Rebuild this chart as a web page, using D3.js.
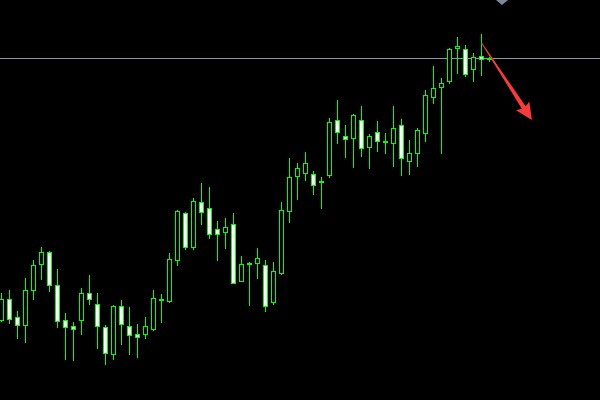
<!DOCTYPE html>
<html>
<head>
<meta charset="utf-8">
<script src="https://cdn.jsdelivr.net/npm/d3@7/dist/d3.min.js"></script>
<style>
  html, body { margin: 0; padding: 0; background: #000; }
  svg { display: block; }
</style>
</head>
<body>
<svg id="chart" width="600" height="400"></svg>
<script>
// Candle OHLC values (arbitrary price units)
const opens  = [79.7,100.7,82.7,74.7,109.7,135.7,147.7,114.7,79.7,73.7,79.7,107,95.7,73,45.7,94,73.7,66,65.7,71.3,99.7,99.3,139.7,187,153.3,197.7,191.7,170.7,167.7,175.7,118.7,135.7,137.3,134.7,98.3,127.3,189.3,223.7,227.3,225.7,218.5,225.3,279.7,263.7,262.3,279.7,253.3,267.7,257.8,256.7,274.7,239.3,247.3,267.3,303.3,312.7,319.3,352.5,350.7,331.3,343.7,341.2];
const highs  = [107.3,110,89,122,140,153.3,149,131,87,78,112,125.3,107,75,95.3,100,93,76,83,110,106,147,190,188,202,217,213,179,182,187,144,138,152,140,138,198,242,236.7,248,229,222.7,282,300,275,286,294,266,279,267,294,281,260,271.7,310,334,322,352,363,355,347,366,343.3];
const lows   = [79,77.3,62.3,58.3,101.3,121.3,109.3,73.3,41.3,40.3,66.3,96.3,52.3,36.3,41.3,56.3,46.3,43.3,62.3,70.3,78.3,98.3,135.3,151.3,151.3,176.3,162.3,140.3,152.3,116.7,118.7,95,122.3,89.3,96.3,126.3,178.3,201.3,220.3,206.3,192.3,223.3,257.3,243.3,233.3,244.3,232.3,249.3,247.3,234.3,225.3,226.3,234.3,259.3,297.3,247.3,317.3,327.3,324.3,319.3,325.3,339];
const closes = [100.7,81.3,74.7,109.7,134.7,147.7,114.7,78.7,72.7,70.7,107,100.7,73.7,46.7,94,75.7,64.7,63.3,73.7,101.7,100.7,140.7,188.7,152.7,199,188.3,165.7,165.7,172.7,116.7,135.7,136.7,142,93.7,128.7,189.7,222.7,231.7,236.7,214.7,219.5,277.7,267.7,261.3,285,252.3,263.7,259.3,258.8,271.7,241.7,246.7,270,304.7,311.7,316.7,350.7,353.5,326.3,342.7,340.7,341.7];
const bidPrice = 341.7;
// annotation arrow: from / to in (candle index, price)
const arrowFrom = { i: 60, v: 357.3 };
const arrowTo   = { i: 66.3, v: 280 };

const candles = opens.map((o, i) => ({ i, o, h: highs[i], l: lows[i], c: closes[i] }));

const W = 600, H = 400;
const svg = d3.select("#chart");
svg.append("rect").attr("width", W).attr("height", H).attr("fill", "#000");

const x = d3.scaleLinear().domain([0, 61]).range([1.5, 489.5]);
const y = d3.scaleLinear().domain([0, 400]).range([400, 0]);

// bid line
const by = Math.round(y(bidPrice)) + 0.5;
svg.append("line")
  .attr("x1", 0).attr("x2", W).attr("y1", by).attr("y2", by)
  .attr("stroke", "#8796aa").attr("stroke-width", 1);

// top triangle marker
svg.append("path")
  .attr("d", "M496,0 L508,0 L502,5 Z")
  .attr("fill", "#7d8a99");

const g = svg.append("g").attr("shape-rendering", "crispEdges");

// wicks
g.selectAll("line.wick").data(candles).join("line")
  .attr("class", "wick")
  .attr("x1", d => x(d.i)).attr("x2", d => x(d.i))
  .attr("y1", d => Math.round(y(d.h)))
  .attr("y2", d => Math.round(y(d.l)) + 1)
  .attr("stroke", "#00ff00").attr("stroke-width", 1);

// bodies
g.selectAll("rect.body").data(candles).join("rect")
  .attr("class", "body")
  .attr("x", d => x(d.i) - 2)
  .attr("width", 4)
  .attr("y", d => Math.round(y(Math.max(d.o, d.c))) + 0.5)
  .attr("height", d => Math.max(1, Math.round(y(Math.min(d.o, d.c))) - Math.round(y(Math.max(d.o, d.c)))))
  .attr("fill", d => d.c >= d.o ? "#000" : "#fff")
  .attr("stroke", "#00ff00").attr("stroke-width", 1);

// red arrow annotation
const x0 = x(arrowFrom.i), y0 = y(arrowFrom.v);
const x1 = x(arrowTo.i), y1 = y(arrowTo.v);
const dx = x1 - x0, dy = y1 - y0, len = Math.hypot(dx, dy);
const ux = dx / len, uy = dy / len, nx = -uy, ny = ux;
const headLen = 17, headHalf = 8, shaftEnd = 2.3, shaftStart = 0.4;
const bx = x1 - ux * headLen, byy = y1 - uy * headLen;
const pts = [
  [x0 + nx * shaftStart, y0 + ny * shaftStart],
  [bx + nx * shaftEnd + ux * 2, byy + ny * shaftEnd + uy * 2],
  [bx + nx * headHalf, byy + ny * headHalf],
  [x1, y1],
  [bx - nx * headHalf, byy - ny * headHalf],
  [bx - nx * shaftEnd + ux * 2, byy - ny * shaftEnd + uy * 2],
  [x0 - nx * shaftStart, y0 - ny * shaftStart]
];
svg.append("path")
  .attr("d", d3.line()(pts) + "Z")
  .attr("fill", "#f53b3b");
</script>
</body>
</html>
